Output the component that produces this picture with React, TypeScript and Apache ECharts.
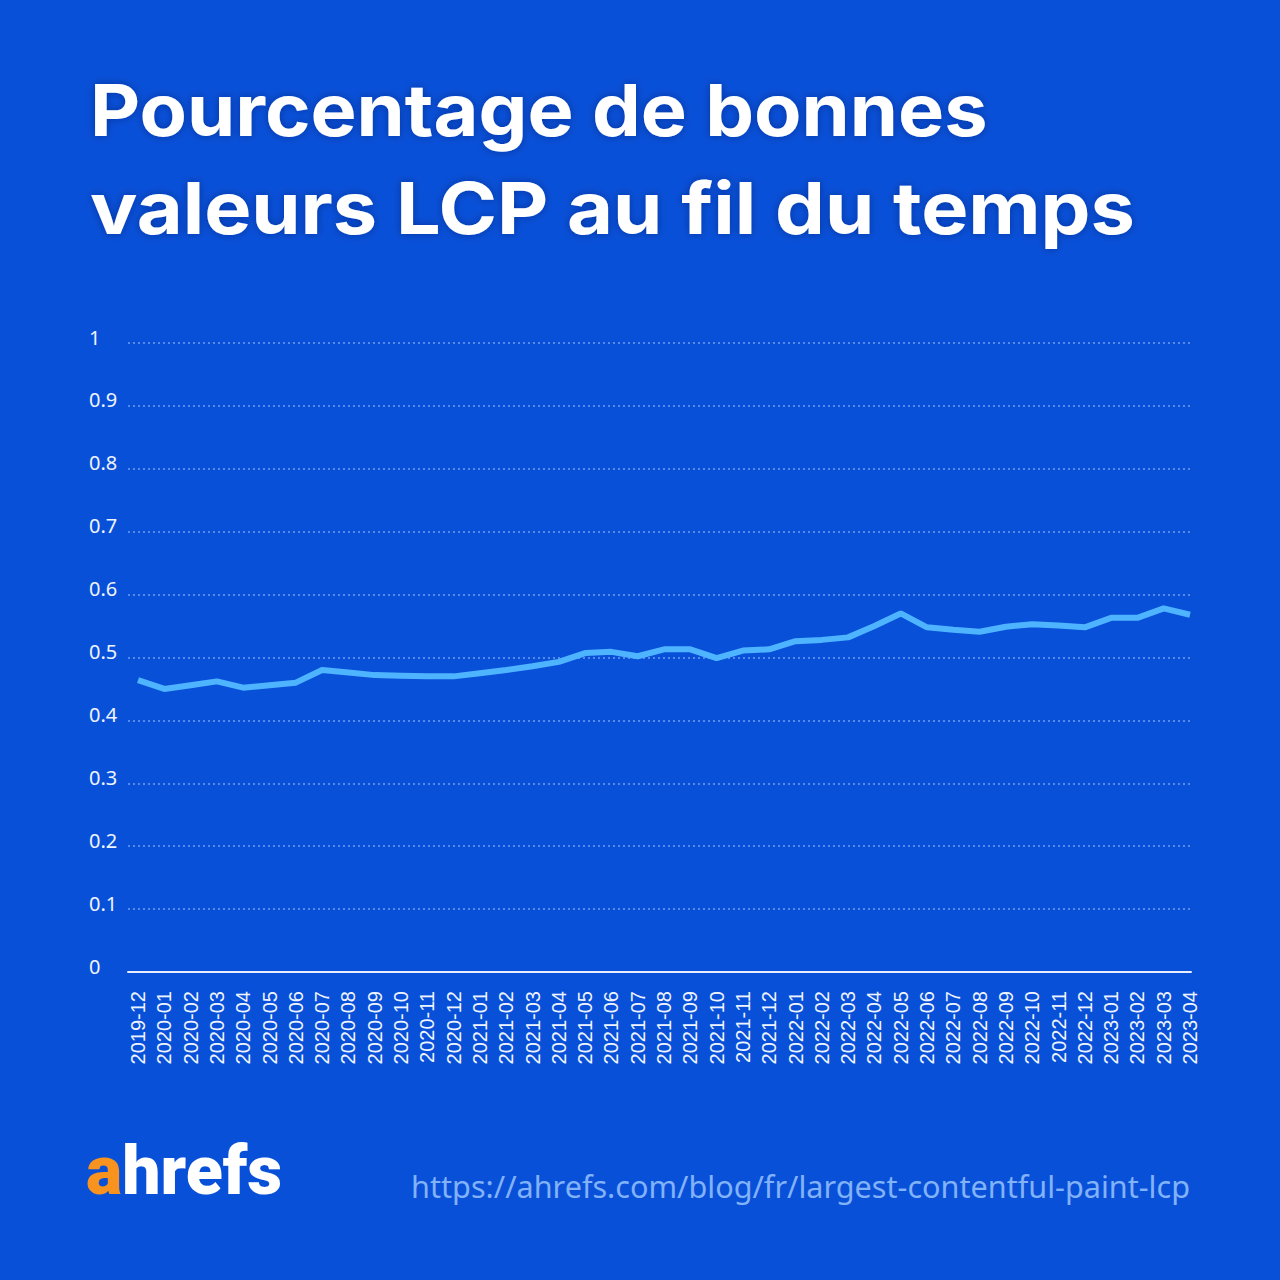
import React, { useEffect, useRef } from "react";
import * as echarts from "echarts";

// Monthly share of URLs with a good LCP score
const months = [
  "2019-12", "2020-01", "2020-02", "2020-03", "2020-04", "2020-05", "2020-06",
  "2020-07", "2020-08", "2020-09", "2020-10", "2020-11", "2020-12", "2021-01",
  "2021-02", "2021-03", "2021-04", "2021-05", "2021-06", "2021-07", "2021-08",
  "2021-09", "2021-10", "2021-11", "2021-12", "2022-01", "2022-02", "2022-03",
  "2022-04", "2022-05", "2022-06", "2022-07", "2022-08", "2022-09", "2022-10",
  "2022-11", "2022-12", "2023-01", "2023-02", "2023-03", "2023-04",
];

const goodLcpShare = [
  0.464, 0.45, 0.456, 0.462, 0.452, 0.456, 0.46,
  0.48, 0.476, 0.472, 0.471, 0.47, 0.47, 0.475,
  0.48, 0.486, 0.493, 0.507, 0.509, 0.502, 0.513,
  0.513, 0.499, 0.511, 0.513, 0.526, 0.528, 0.532,
  0.55, 0.57, 0.548, 0.544, 0.541, 0.549, 0.553,
  0.551, 0.548, 0.563, 0.563, 0.578, 0.568,
];

const titleLines = ["Pourcentage de bonnes", "valeurs LCP au fil du temps"];
const sourceUrl = "https://ahrefs.com/blog/fr/largest-contentful-paint-lcp";

const BG = "#0950d9";
const TEXT = "#eef4ff";

export default function App() {
  const ref = useRef<HTMLDivElement>(null);

  useEffect(() => {
    document.body.style.margin = "0";
    const chart = echarts.init(ref.current!, null, { renderer: "svg" });
    const titleStyle = {
      fill: "#ffffff",
      font: "bold 72px Inter",
      textShadowColor: "rgba(0,0,40,0.35)",
      textShadowBlur: 8,
    };
    chart.setOption({
      animation: false,
      backgroundColor: BG,
      grid: [
        { left: 128, right: 89, top: 343, bottom: 308 },
        { left: 138, right: 90, top: 343, bottom: 308 },
      ],
      xAxis: [
        {
          gridIndex: 0,
          type: "value",
          min: 0,
          max: 1,
          z: 3,
          axisLine: { show: true, lineStyle: { color: "#e6eeff", width: 2 } },
          axisTick: { show: false },
          axisLabel: { show: false },
          splitLine: { show: false },
        },
        {
          gridIndex: 1,
          type: "category",
          data: months,
          boundaryGap: false,
          axisLine: { show: false },
          axisTick: { show: false },
          splitLine: { show: false },
          axisLabel: {
            rotate: 90,
            margin: 19,
            interval: 0,
            color: TEXT,
            fontSize: 20,
            fontFamily: "Liberation Sans",
          },
        },
      ],
      yAxis: [
        {
          gridIndex: 0,
          type: "value",
          min: 0,
          max: 1,
          interval: 0.1,
          axisLine: { show: false },
          axisTick: { show: false },
          splitLine: {
            show: true,
            lineStyle: { color: "#6f9cf0", type: [2, 3], width: 1.5 },
          },
          axisLabel: {
            color: TEXT,
            fontSize: 20,
            fontFamily: "Noto Sans",
            align: "left",
            verticalAlign: "bottom",
            lineHeight: 12,
            margin: 39,
          },
        },
        { gridIndex: 1, type: "value", min: 0, max: 1, show: false },
      ],
      series: [
        {
          type: "line",
          xAxisIndex: 1,
          yAxisIndex: 1,
          data: goodLcpShare,
          symbol: "none",
          lineStyle: { color: "#4fb4ff", width: 6 },
          z: 4,
        },
      ],
      graphic: [
        {
          type: "text",
          x: 90,
          y: 74,
          scaleX: 1.076,
          style: { text: titleLines[0], ...titleStyle },
        },
        {
          type: "text",
          x: 90,
          y: 172,
          scaleX: 1.1,
          style: { text: titleLines[1], ...titleStyle },
        },
        {
          type: "text",
          left: 86,
          top: 1137,
          style: {
            text: "{a|a}{b|hrefs}",
            rich: {
              a: { fill: "#f7931e", font: "900 68px Roboto" },
              b: { fill: "#ffffff", font: "900 68px Roboto" },
            },
          },
        },
        {
          type: "text",
          right: 90,
          top: 1170,
          style: {
            text: sourceUrl,
            fill: "#82b2f8",
            font: "30.6px Noto Sans",
          },
        },
      ],
    });
    return () => chart.dispose();
  }, []);

  return (
    <div
      ref={ref}
      style={{ position: "fixed", left: 0, top: 0, width: 1280, height: 1280 }}
    />
  );
}
